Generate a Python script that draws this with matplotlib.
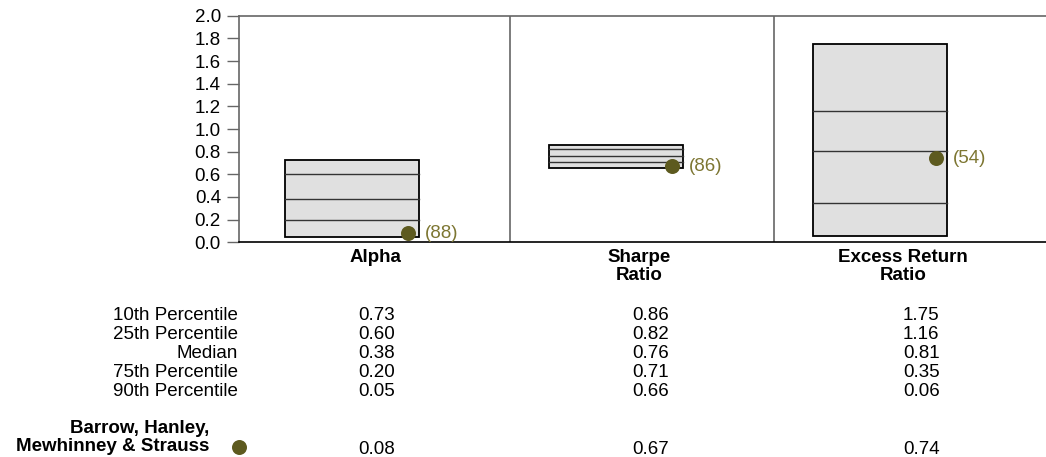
import matplotlib
matplotlib.use("Agg")
import matplotlib.pyplot as plt
from matplotlib.patches import Rectangle

plt.rcParams["font.family"] = ["Liberation Sans", "DejaVu Sans"]

# Data
categories = ["Alpha", "Sharpe\nRatio", "Excess Return\nRatio"]
row_labels = ["10th Percentile", "25th Percentile", "Median",
              "75th Percentile", "90th Percentile"]
p10 = [0.73, 0.86, 1.75]
p25 = [0.60, 0.82, 1.16]
median = [0.38, 0.76, 0.81]
p75 = [0.20, 0.71, 0.35]
p90 = [0.05, 0.66, 0.06]
manager_name = "Barrow, Hanley,\nMewhinney & Strauss"
manager_values = [0.08, 0.67, 0.74]
manager_ranks = [88, 86, 54]
yticks = [0.0, 0.2, 0.4, 0.6, 0.8, 1.0, 1.2, 1.4, 1.6, 1.8, 2.0]

W, H = 1046, 457
FS = 13.5
BOX_FILL = "#e0e0e0"
DOT = "#5d5a1f"
DOT_TEXT = "#7d7632"

fig = plt.figure(figsize=(W / 100, H / 100), dpi=100)


def fx(px):
    return px / W


def fy(py):
    return 1 - py / H


# Chart area
ax_left, ax_right, ax_top, ax_bottom = 239, 1046, 15.7, 242.3
ax = fig.add_axes([fx(ax_left), fy(ax_bottom), fx(ax_right - ax_left),
                   (ax_bottom - ax_top) / H])
unit = 264.0
x0 = 352.0
ax.set_xlim(-(x0 - ax_left) / unit, (ax_right - x0) / unit)
ax.set_ylim(0, 2.0)

box_w = 0.51
for i in range(len(categories)):
    top, bot = p10[i], p90[i]
    ax.add_patch(Rectangle((i - box_w / 2, bot), box_w, top - bot,
                           facecolor=BOX_FILL, edgecolor="black",
                           linewidth=1.3, zorder=2))
    for v in (p25[i], median[i], p75[i]):
        ax.plot([i - box_w / 2, i + box_w / 2], [v, v], color="#333333",
                linewidth=1.0, zorder=3)
    dx = i + box_w / 2 - 11 / unit
    ax.plot(dx, manager_values[i], "o", color=DOT, markersize=10.8,
            markeredgewidth=0, zorder=4)
    ax.annotate(f"({manager_ranks[i]})", (dx, manager_values[i]),
                xytext=(12, 0), textcoords="offset points",
                va="center", ha="left", fontsize=FS, color=DOT_TEXT, zorder=5)
    if i > 0:
        ax.axvline(i - 0.40, color="#666666", linewidth=1.2, zorder=1)

ax.set_xticks([])
ax.set_yticks(yticks)
ax.set_yticklabels([f"{t:.1f}" for t in yticks], fontsize=FS)
ax.tick_params(axis="y", length=9, width=1, color="#666666", pad=4)
for side in ("top", "left"):
    ax.spines[side].set_color("#666666")
    ax.spines[side].set_linewidth(1.2)
ax.spines["right"].set_visible(False)
ax.spines["bottom"].set_color("black")
ax.spines["bottom"].set_linewidth(1.2)

# Category labels below the chart
for i, c in enumerate(categories):
    ax.text(i + 23 / unit, -0.06, c, transform=ax.transData, ha="center",
            va="top", fontsize=FS, fontweight="bold", linespacing=1.08)

# Percentile table
col_x = [358, 632, 903]
row_y = [313, 332.1, 351.2, 370.3, 389.4]
label_right = 238
for r, (name, vals) in enumerate(zip(row_labels, [p10, p25, median, p75, p90])):
    fig.text(fx(label_right), fy(row_y[r]), name, ha="right",
             va="center_baseline", fontsize=FS)
    for c, v in enumerate(vals):
        fig.text(fx(col_x[c]), fy(row_y[r]), f"{v:.2f}", ha="left",
                 va="center_baseline", fontsize=FS)

# Manager row
fig.text(fx(209), fy(437.5), manager_name, ha="right", va="center",
         fontsize=FS, fontweight="bold", linespacing=1.08)
fig.lines.append(plt.Line2D([fx(239)], [fy(447)], marker="o", color=DOT,
                            markersize=10.8, markeredgewidth=0,
                            transform=fig.transFigure))
for c, v in enumerate(manager_values):
    fig.text(fx(col_x[c]), fy(447), f"{v:.2f}", ha="left",
             va="center_baseline", fontsize=FS)

fig.savefig("out.png", dpi=100)
